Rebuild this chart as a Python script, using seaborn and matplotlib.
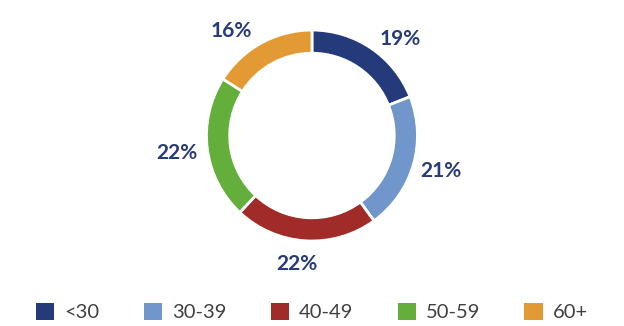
import matplotlib
matplotlib.use("Agg")
import numpy as np
import matplotlib.pyplot as plt
import seaborn as sns
from matplotlib.patches import Patch

categories = ["<30", "30-39", "40-49", "50-59", "60+"]
values = [19, 21, 22, 22, 16]
labels = ["19%", "21%", "22%", "22%", "16%"]
colors = ["#253A7A", "#7096CC", "#A02B28", "#64AE3C", "#E39A35"]

# label placement tweaks (style): angle shift in degrees and radial distance
label_angle_shift = [-8, 1, -3, 0, 9]
label_dist = [1.24, 1.27, 1.23, 1.29, 1.25]

sns.set_theme(style="white")
plt.rcParams["font.family"] = ["Lato", "DejaVu Sans"]
palette = sns.color_palette(colors)

fig = plt.figure(figsize=(6.24, 3.26), dpi=100)
ax = fig.add_axes([0.3309, 0.2607, 0.3381, 0.6472])
wedges, texts = ax.pie(
    values, labels=labels, colors=palette, startangle=90, counterclock=False,
    labeldistance=1.25, radius=1.0,
    wedgeprops=dict(width=0.22, edgecolor="white", linewidth=2),
    textprops=dict(color="#263B77", fontsize=15, fontweight="bold"),
)
for w, t, da, d in zip(wedges, texts, label_angle_shift, label_dist):
    ang = np.deg2rad((w.theta1 + w.theta2) / 2 + da)
    t.set_position((d * np.cos(ang), d * np.sin(ang)))
    t.set_horizontalalignment("center")
    t.set_verticalalignment("center")
ax.set_xlim(-1, 1)
ax.set_ylim(-1, 1)
ax.set_aspect("equal")
ax.axis("off")

handles = [Patch(facecolor=c, edgecolor="none") for c in palette]
fig.legend(handles, categories, loc="center", bbox_to_anchor=(0.5, 0.043),
           ncol=5, frameon=False, fontsize=14.5, handlelength=0.9, handleheight=0.9,
           handletextpad=0.5, columnspacing=2.2, labelcolor="#404040")

fig.savefig("out.png", dpi=100, facecolor="white")
